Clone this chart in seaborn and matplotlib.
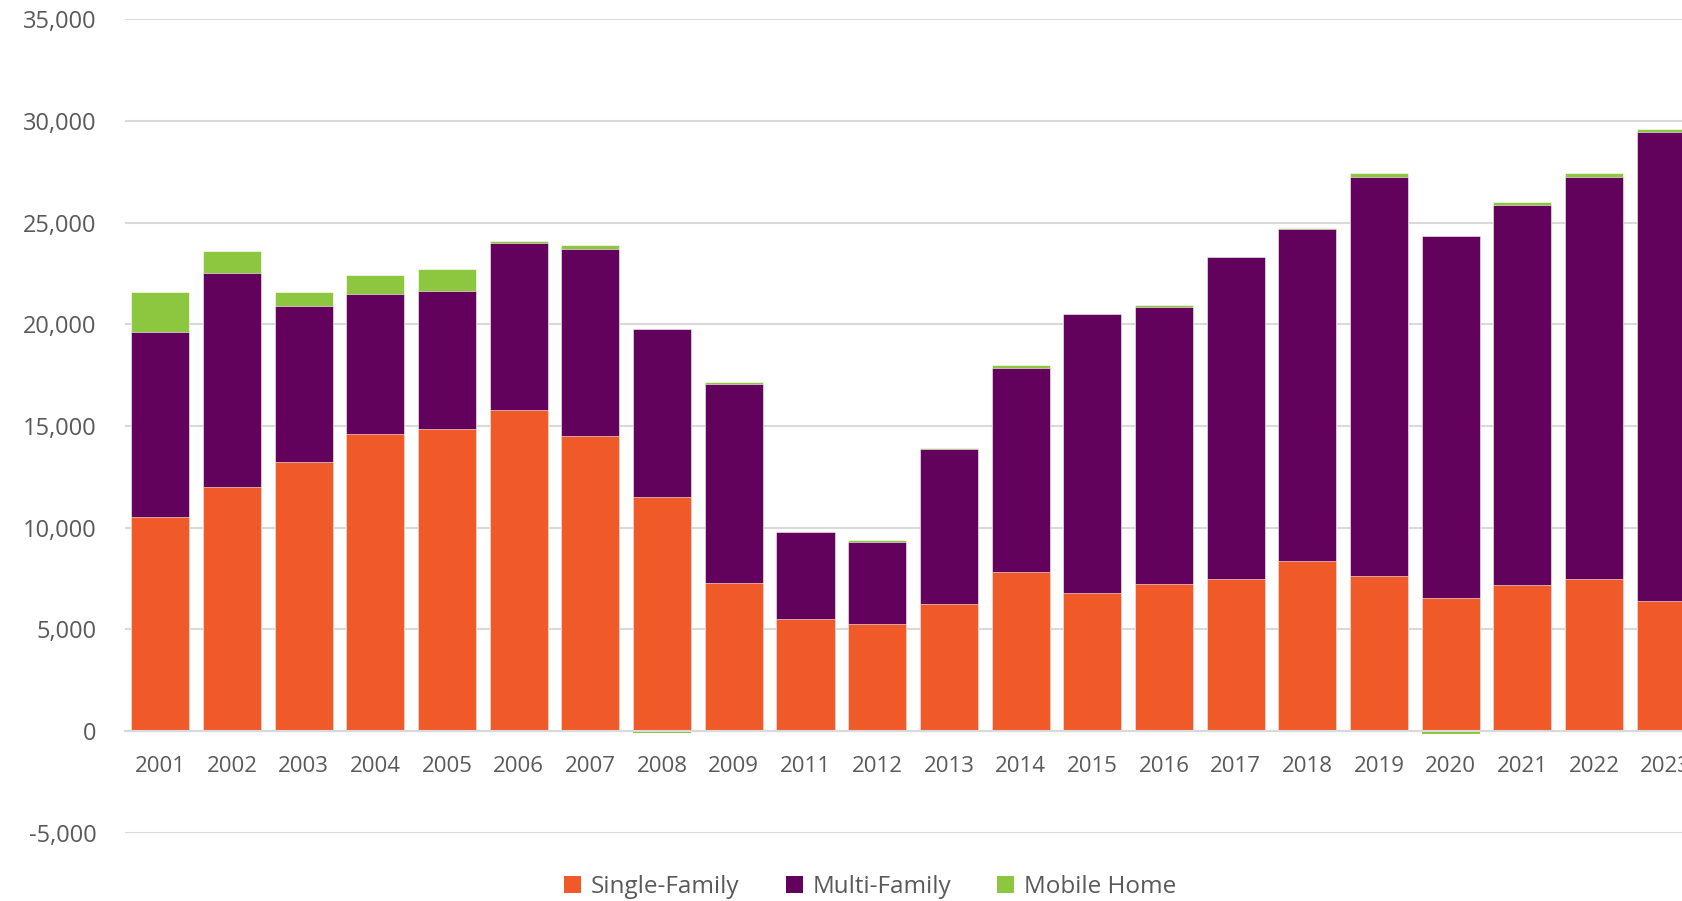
import matplotlib
matplotlib.use("Agg")
import matplotlib.pyplot as plt
from matplotlib.patches import Patch
from matplotlib.ticker import FuncFormatter
import seaborn as sns
import pandas as pd
import numpy as np

# %% data
years = ['2001', '2002', '2003', '2004', '2005', '2006', '2007', '2008', '2009', '2011', '2012',
         '2013', '2014', '2015', '2016', '2017', '2018', '2019', '2020', '2021', '2022', '2023']
single_family = [10500, 12000, 13250, 14600, 14850, 15800, 14500, 11500, 7300, 5500, 5280,
                 6230, 7800, 6800, 7230, 7450, 8350, 7600, 6550, 7180, 7450, 6400]
multi_family = [9100, 10500, 7650, 6900, 6800, 8200, 9200, 8250, 9750, 4300, 4020,
                7650, 10050, 13700, 13620, 15850, 16350, 19650, 17800, 18700, 19800, 23050]
mobile_home = [2000, 1100, 700, 900, 1050, 100, 200, -100, 100, 0, 100,
               50, 150, 0, 100, 30, 50, 200, -150, 150, 200, 150]

series_names = ['Single-Family', 'Multi-Family', 'Mobile Home']
mycolors = ['#F05A28', '#63025C', '#8DC63F']  # orange, purple, green

# %% build cumulative tops (drawn back to front, seaborn has no stacking)
sf = np.array(single_family)
mf = np.array(multi_family)
mh = np.array(mobile_home)
df = pd.DataFrame({'year': years,
                   'top_mh': sf + mf + np.clip(mh, 0, None),
                   'top_mf': sf + mf,
                   'top_sf': sf,
                   'neg_mh': np.clip(mh, None, 0)})

plt.rcParams['font.family'] = ['Open Sans', 'DejaVu Sans']
fig = plt.figure(figsize=(16.83, 9.01), dpi=100)
ax = fig.add_axes([0.074, 0.0759, 0.937, 0.9027])

w = 0.81
sns.barplot(data=df, x='year', y='top_mh', ax=ax, color=mycolors[2], width=w, saturation=1, edgecolor='white', linewidth=0.4)
sns.barplot(data=df, x='year', y='top_mf', ax=ax, color=mycolors[1], width=w, saturation=1, edgecolor='white', linewidth=0.4)
sns.barplot(data=df, x='year', y='top_sf', ax=ax, color=mycolors[0], width=w, saturation=1, edgecolor='white', linewidth=0.4)
sns.barplot(data=df, x='year', y='neg_mh', ax=ax, color=mycolors[2], width=w, saturation=1, linewidth=0)

ax.set_xlim(-0.5, 21.5)
ax.set_ylim(-5000, 35000)
ax.set_yticks(range(-5000, 35001, 5000))
ax.yaxis.set_major_formatter(FuncFormatter(lambda v, p: f'{v:,.0f}'))
ax.yaxis.grid(True, color='#d9d9d9', linewidth=1.5)
ax.set_axisbelow(True)

for s in ['top', 'right', 'left']:
    ax.spines[s].set_visible(False)
ax.spines['bottom'].set_position(('data', 0))
ax.spines['bottom'].set_color('#d9d9d9')
ax.spines['bottom'].set_linewidth(1.5)

ax.tick_params(axis='y', length=0, labelsize=17, labelcolor='#595959', pad=20)
ax.tick_params(axis='x', length=0, labelsize=16, labelcolor='#595959', pad=18)
ax.set_xlabel('')
ax.set_ylabel('')

handles = [Patch(facecolor=c, edgecolor='none') for c in mycolors]
fig.legend(handles, series_names, loc='center', bbox_to_anchor=(0.517, 0.016), ncol=3,
           frameon=False, fontsize=17.5, labelcolor='#595959', handlelength=0.7, handleheight=0.7,
           handletextpad=0.4, columnspacing=1.9)

plt.savefig('out.png', dpi=100)
